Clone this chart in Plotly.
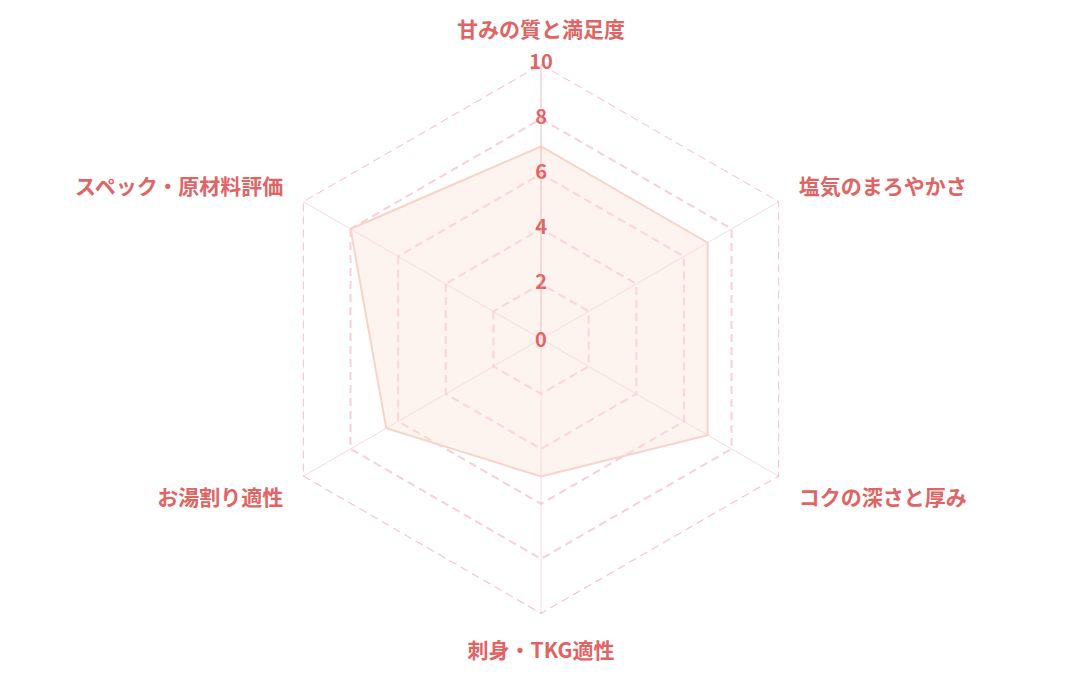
import plotly.graph_objects as go

# Categories (clockwise from top) and scores
categories = ['甘みの質と満足度', '塩気のまろやかさ', 'コクの深さと厚み',
              '刺身・TKG適性', 'お湯割り適性', 'スペック・原材料評価']
scores = [7, 7, 7, 5, 6.5, 8]
tick_values = [0, 2, 4, 6, 8, 10]

text_color = '#e06464'
grid_color = 'rgba(242,170,185,0.55)'
font_family = 'Noto Sans CJK JP'
dom_x = [0.2389, 0.7482]
dom_y = [0.1023, 0.9171]

fig = go.Figure()

# outer dashed hexagon
fig.add_trace(go.Scatterpolar(
    r=[max(tick_values)] * (len(categories) + 1),
    theta=categories + categories[:1],
    mode='lines',
    line=dict(color='rgba(242,170,185,0.75)', width=2, dash='8px,5px'),
    cliponaxis=False,
    hoverinfo='skip', showlegend=False
))

# score area
fig.add_trace(go.Scatterpolar(
    r=scores + scores[:1],
    theta=categories + categories[:1],
    mode='lines',
    fill='toself',
    fillcolor='rgba(250,225,215,0.4)',
    line=dict(color='rgba(246,212,202,1)', width=2),
    showlegend=False
))

# radial tick labels centered on the top axis
fig.add_trace(go.Scatterpolar(
    r=tick_values[1:],
    theta=[categories[0]] * (len(tick_values) - 1),
    mode='text',
    text=[str(v) for v in tick_values[1:]],
    textposition='middle center',
    textfont=dict(color=text_color, size=20, family=font_family, weight='bold'),
    cliponaxis=False,
    hoverinfo='skip', showlegend=False
))

# the "0" tick label sits at the centre of the polar domain
fig.add_annotation(
    x=sum(dom_x) / 2, y=sum(dom_y) / 2, xref='paper', yref='paper',
    text=str(tick_values[0]), showarrow=False,
    font=dict(color=text_color, size=20, family=font_family, weight='bold'),
)

fig.update_layout(
    width=1080, height=675,
    paper_bgcolor='white',
    margin=dict(l=0, r=0, t=0, b=0),
    font=dict(family=font_family, color=text_color),
    polar=dict(
        bgcolor='white',
        gridshape='linear',
        domain=dict(x=dom_x, y=dom_y),
        radialaxis=dict(
            range=[0, 10], tickvals=tick_values[1:],
            showticklabels=False, ticks='',
            showline=True, linecolor=grid_color, linewidth=1,
            gridcolor=grid_color, griddash='8px,5px', gridwidth=1.5,
            angle=90,
        ),
        angularaxis=dict(
            direction='clockwise', rotation=90,
            showline=False,
            gridcolor='rgba(240,170,185,0.45)', gridwidth=1.2,
            ticks='outside', ticklen=18, tickcolor='rgba(0,0,0,0)',
            tickfont=dict(size=21, color=text_color, family=font_family,
                          weight='bold'),
        ),
    ),
)

fig.write_html("out.html")
